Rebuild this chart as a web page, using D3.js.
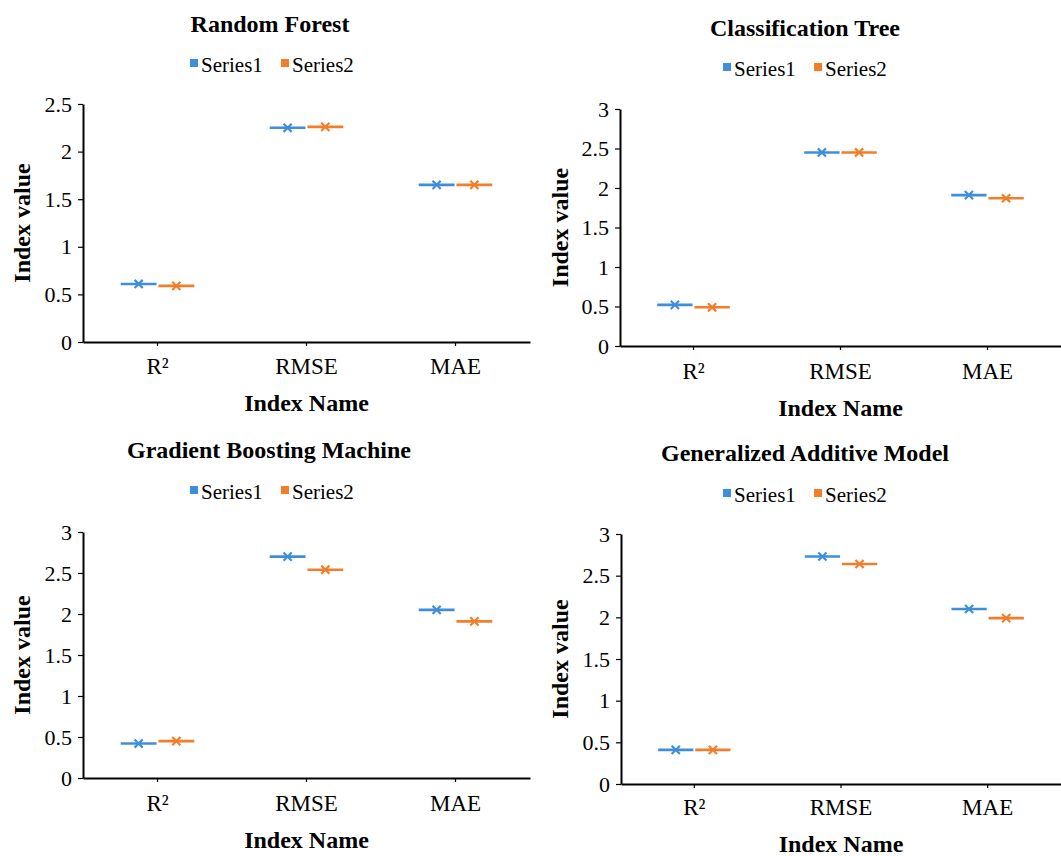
<!DOCTYPE html>
<html>
<head>
<meta charset="utf-8">
<script src="https://cdn.jsdelivr.net/npm/d3@7"></script>
<style>
  body { margin: 0; background: #fff; }
  svg text { font-family: "Liberation Serif", "Times New Roman", serif; fill: #000; }
  .domain { stroke: #000; stroke-width: 2px; }
  .tick line { stroke: #000; stroke-width: 1.2px; }
</style>
</head>
<body>
<svg width="1061" height="856"></svg>
<script>
const categories = ["R²", "RMSE", "MAE"];
const seriesNames = ["Series1", "Series2"];
const titles = ["Random Forest", "Classification Tree", "Gradient Boosting Machine", "Generalized Additive Model"];

const rfSeries1 = [0.61, 2.25, 1.65];
const rfSeries2 = [0.59, 2.26, 1.65];
const ctSeries1 = [0.52, 2.45, 1.91];
const ctSeries2 = [0.49, 2.45, 1.87];
const gbmSeries1 = [0.42, 2.70, 2.05];
const gbmSeries2 = [0.45, 2.54, 1.91];
const gamSeries1 = [0.41, 2.73, 2.10];
const gamSeries2 = [0.41, 2.64, 1.99];

const ticks25 = [0, 0.5, 1, 1.5, 2, 2.5];
const ticks3 = [0, 0.5, 1, 1.5, 2, 2.5, 3];

const colors = ["#3f8edb", "#f27d2a"];

// where each panel sits on the page
const panels = [
  { title: titles[0], s1: rfSeries1, s2: rfSeries2, ticks: ticks25, left: 83, right: 530, y0: 342, yTop: 104,
    titleX: 270, titleY: 32, legendY: 72, legendX: 190, catY: 374, nameY: 411, yTitleX: 30 },
  { title: titles[1], s1: ctSeries1, s2: ctSeries2, ticks: ticks3, left: 620, right: 1061, y0: 346, yTop: 109,
    titleX: 805, titleY: 36, legendY: 76, legendX: 723, catY: 379, nameY: 416, yTitleX: 568 },
  { title: titles[2], s1: gbmSeries1, s2: gbmSeries2, ticks: ticks3, left: 83, right: 530, y0: 778, yTop: 532,
    titleX: 269, titleY: 458, legendY: 499, legendX: 190, catY: 811, nameY: 848, yTitleX: 30 },
  { title: titles[3], s1: gamSeries1, s2: gamSeries2, ticks: ticks3, left: 621, right: 1061, y0: 784, yTop: 534,
    titleX: 805, titleY: 461, legendY: 502, legendX: 723, catY: 815, nameY: 852, yTitleX: 568 }
];

const svg = d3.select("svg");

panels.forEach(p => {
  const g = svg.append("g");

  const x = d3.scaleBand()
    .domain(categories)
    .range([p.left, p.right])
    .padding(0);

  const x1 = d3.scaleBand()
    .domain(seriesNames)
    .range([0, x.bandwidth()])
    .paddingInner(0.05)
    .paddingOuter(1);

  const y = d3.scaleLinear()
    .domain([0, d3.max(p.ticks)])
    .range([p.y0, p.yTop]);

  // y axis
  g.append("g")
    .attr("transform", `translate(${p.left},0)`)
    .call(d3.axisLeft(y).tickValues(p.ticks).tickFormat(d => String(d)).tickSize(5).tickSizeOuter(0).tickPadding(6))
    .selectAll("text").attr("font-size", 22);

  // x axis
  g.append("g")
    .attr("transform", `translate(0,${p.y0})`)
    .call(d3.axisBottom(x).tickSize(4).tickSizeOuter(0).tickFormat(""));

  g.selectAll(".cat")
    .data(categories)
    .enter().append("text")
    .attr("class", "cat")
    .attr("x", d => x(d) + x.bandwidth() / 2)
    .attr("y", p.catY)
    .attr("text-anchor", "middle")
    .attr("font-size", 23)
    .text(d => d);

  // series marks: short horizontal line with an x marker
  const rows = [];
  categories.forEach((c, i) => {
    rows.push({ cat: c, series: seriesNames[0], value: p.s1[i], color: colors[0] });
    rows.push({ cat: c, series: seriesNames[1], value: p.s2[i], color: colors[1] });
  });

  const mark = g.selectAll(".mark")
    .data(rows)
    .enter().append("g")
    .attr("class", "mark");

  mark.append("line")
    .attr("x1", d => x(d.cat) + x1(d.series))
    .attr("x2", d => x(d.cat) + x1(d.series) + x1.bandwidth())
    .attr("y1", d => y(d.value))
    .attr("y2", d => y(d.value))
    .attr("stroke", d => d.color)
    .attr("stroke-width", 2.6);

  mark.append("path")
    .attr("d", d3.symbol(d3.symbolX, 45))
    .attr("transform", d => `translate(${x(d.cat) + x1(d.series) + x1.bandwidth() / 2},${y(d.value)})`)
    .attr("fill", "none")
    .attr("stroke", d => d.color)
    .attr("stroke-width", 2.2);

  // titles
  g.append("text")
    .attr("x", p.titleX)
    .attr("y", p.titleY)
    .attr("text-anchor", "middle")
    .attr("font-size", 24)
    .attr("font-weight", "bold")
    .text(p.title);

  g.append("text")
    .attr("x", x(categories[1]) + x.bandwidth() / 2)
    .attr("y", p.nameY)
    .attr("text-anchor", "middle")
    .attr("font-size", 24)
    .attr("font-weight", "bold")
    .text("Index Name");

  g.append("text")
    .attr("transform", `translate(${p.yTitleX},${(p.y0 + p.yTop) / 2}) rotate(-90)`)
    .attr("text-anchor", "middle")
    .attr("font-size", 24)
    .attr("font-weight", "bold")
    .text("Index value");

  // legend
  const legend = g.append("g")
    .attr("transform", `translate(${p.legendX},${p.legendY})`);
  const item = legend.selectAll(".item")
    .data(seriesNames)
    .enter().append("g")
    .attr("class", "item")
    .attr("transform", (d, i) => `translate(${i * 91},0)`);
  item.append("rect")
    .attr("x", 0)
    .attr("y", -13)
    .attr("width", 8)
    .attr("height", 8)
    .attr("fill", (d, i) => colors[i]);
  item.append("text")
    .attr("x", 11)
    .attr("y", 0)
    .attr("font-size", 21)
    .text(d => d);
});
</script>
</body>
</html>
